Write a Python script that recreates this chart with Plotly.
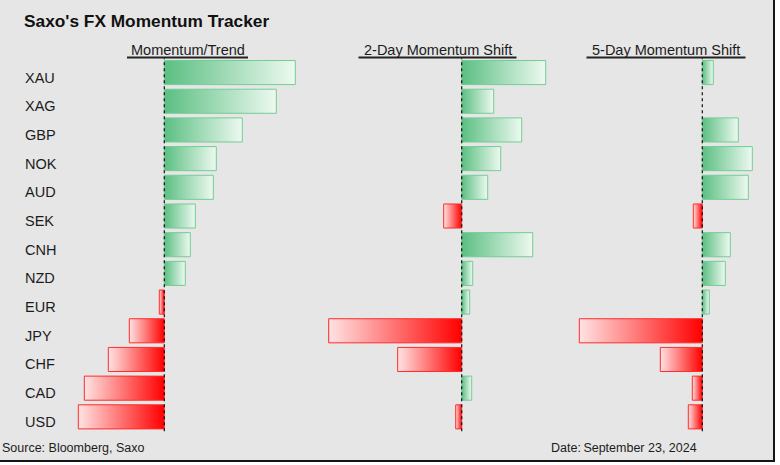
import plotly.graph_objects as go

# ---------------- data ----------------
currencies = ["XAU", "XAG", "GBP", "NOK", "AUD", "SEK", "CNH", "NZD", "EUR", "JPY", "CHF", "CAD", "USD"]
momentum_trend = [131, 112, 78, 52, 49, 31, 26, 21, -5, -35, -56, -80, -86]
shift_2day = [84, 32, 60, 39, 26, -18, 71, 11, 8, -133, -64, 10, -6]
shift_5day = [11, 0, 36, 50, 46, -9, 28, 23, 7, -123, -42, -10, -14]
panel_titles = ["Momentum/Trend", "2-Day Momentum Shift", "5-Day Momentum Shift"]
chart_title = "Saxo's FX Momentum Tracker"
source_text = "Source: Bloomberg, Saxo"
date_text = "Date:\u2009September 23, 2024"

# ---------------- layout constants ----------------
W, H = 780, 465
FONT = "Liberation Sans, Arial, sans-serif"
TXT = "#1c1c1c"
BG = "#e6e6e6"
GREEN_STRONG = "#5bbf82"
GREEN_PALE = "#edf9f0"
GREEN_LINE = "#74cd94"
RED_STRONG = "#ff0000"
RED_PALE = "#ffe3e3"
RED_LINE = "#ff2b2b"
HALF = 0.42

# panel: (domain left px, domain right px, zero px)
panels = [(70, 312, 164.3), (318, 562, 461.7), (566, 772, 702.3)]
series = [momentum_trend, shift_2day, shift_5day]
y_top_px, y_bot_px = 58.2, 431.2

def px_x(p):
    return p / W

def px_y(p):
    return (H - p) / H

fig = go.Figure()

for k, (vals, (d0, d1, z)) in enumerate(zip(series, panels)):
    xa = "x" if k == 0 else f"x{k+1}"
    for i, v in enumerate(vals):
        if v == 0:
            continue
        if v > 0:
            cs = [[0, GREEN_STRONG], [1, GREEN_PALE]]
            lc = GREEN_LINE
        else:
            cs = [[0, RED_PALE], [1, RED_STRONG]]
            lc = RED_LINE
        fig.add_trace(go.Scatter(
            x=[0, v, v, 0, 0],
            y=[i - HALF, i - HALF, i + HALF, i + HALF, i - HALF],
            mode="lines",
            fill="toself",
            fillgradient=dict(type="horizontal", colorscale=cs),
            line=dict(color=lc, width=1),
            xaxis=xa, yaxis="y",
            hoverinfo="skip", showlegend=False,
        ))
    ax = dict(
        domain=[px_x(d0), px_x(d1)],
        range=[d0 - z, d1 - z],
        visible=False, fixedrange=True,
        anchor="y",
    )
    if k == 0:
        fig.update_layout(xaxis=ax)
    else:
        fig.update_layout(**{f"xaxis{k+1}": ax})
    # dotted zero line
    fig.add_shape(type="line", xref=xa, yref="y domain", x0=0, x1=0, y0=0, y1=1,
                  line=dict(color="#111111", width=1.2, dash="dot"))

fig.update_layout(
    yaxis=dict(domain=[px_y(y_bot_px), px_y(y_top_px)], range=[len(currencies) - 0.5, -0.5],
               visible=False, fixedrange=True),
)

# background panel and dark border edges
fig.add_shape(type="rect", xref="paper", yref="paper", x0=0, x1=px_x(773), y0=px_y(460), y1=1,
              fillcolor=BG, line=dict(width=0), layer="below")
fig.add_shape(type="line", xref="paper", yref="paper", x0=px_x(774), x1=px_x(774), y0=px_y(462), y1=1,
              line=dict(color="#151515", width=2), layer="below")
fig.add_shape(type="line", xref="paper", yref="paper", x0=0, x1=px_x(775), y0=px_y(461), y1=px_y(461),
              line=dict(color="#151515", width=2), layer="below")

annotations = []
# title
annotations.append(dict(text=f"<b>{chart_title}</b>", xref="paper", yref="paper", x=px_x(22), y=px_y(21),
                        xanchor="left", yanchor="middle", showarrow=False,
                        font=dict(family=FONT, size=17.3, color="#111111")))
# panel headings with underline
heading_centers = [187.5, 437.5, 666]
heading_widths = [121, 158, 159]
for t, c, w in zip(panel_titles, heading_centers, heading_widths):
    annotations.append(dict(text=t, xref="paper", yref="paper", x=px_x(c), y=px_y(50),
                            xanchor="center", yanchor="middle", showarrow=False,
                            font=dict(family=FONT, size=14.5, color=TXT)))
    fig.add_shape(type="line", xref="paper", yref="paper", x0=px_x(c - w / 2), x1=px_x(c + w / 2),
                  y0=px_y(57.6), y1=px_y(57.6), line=dict(color="#222222", width=2))
# row labels (sit slightly below bar centres, as in the original)
for i, cur in enumerate(currencies):
    annotations.append(dict(text=cur, xref="paper", yref="y", x=px_x(23), y=i, yshift=-5,
                            xanchor="left", yanchor="middle", showarrow=False,
                            font=dict(family=FONT, size=14.5, color=TXT)))
# footer
annotations.append(dict(text=source_text, xref="paper", yref="paper", x=px_x(0), y=px_y(448),
                        xanchor="left", yanchor="middle", showarrow=False,
                        font=dict(family=FONT, size=12.5, color=TXT)))
annotations.append(dict(text=date_text, xref="paper", yref="paper", x=px_x(549), y=px_y(448),
                        xanchor="left", yanchor="middle", showarrow=False,
                        font=dict(family=FONT, size=12.5, color=TXT)))

fig.update_layout(
    width=W, height=H,
    margin=dict(l=0, r=0, t=0, b=0),
    paper_bgcolor="white",
    plot_bgcolor="rgba(0,0,0,0)",
    annotations=annotations,
    showlegend=False,
)

fig.write_html("out.html", config={"displayModeBar": False},
               post_script="document.body.style.margin='0';document.body.style.overflow='hidden';")
